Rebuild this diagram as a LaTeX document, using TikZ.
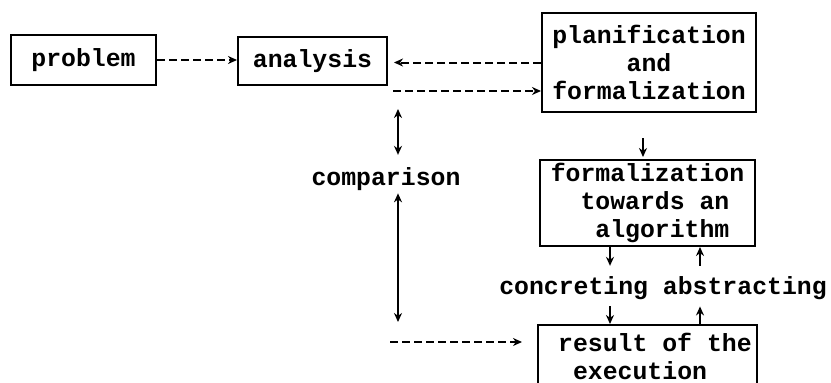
\documentclass[tikz,border=0pt]{standalone}
\usepackage{fontspec}
\setmonofont{Liberation Mono}
\usetikzlibrary{arrows.meta,calc}
\begin{document}
\begin{tikzpicture}[x=1pt,y=-1pt,
  every node/.style={font=\ttfamily\bfseries\fontsize{24.8}{28}\selectfont},
  box/.style={draw,line width=2pt,inner sep=0pt,align=center},
  plainlbl/.style={inner sep=0pt,anchor=base},
  arr/.style={line width=2pt,-{Stealth[length=9pt,width=8pt]}},
  dasharr/.style={arr,dash pattern=on 8pt off 4pt},
  dblarr/.style={line width=2pt,{Stealth[length=9pt,width=8pt]}-{Stealth[length=9pt,width=8pt]}}
]
\clip (0,0) rectangle (831,383);
\fill[white] (0,0) rectangle (831,383);

\node[box,minimum width=145pt,minimum height=50pt] (problem) at (83.5,60) {problem};
\node[box,minimum width=149pt,minimum height=48pt] (analysis) at (312.5,61) {analysis};
\node[box,minimum width=214pt,minimum height=99pt] (plan) at (649,62.5) {planification\\and\\formalization};
\node[box,minimum width=215pt,minimum height=86pt,align=left] (formal) at (647.5,203)
  {formalization\\\hphantom{xx}towards an\\\hphantom{xxx}algorithm};
\node[box,anchor=north,minimum width=219pt,align=left,inner ysep=8pt] (result) at (647.5,324)
  {\hphantom{x}result of the\\\hphantom{xx}execution\\\mbox{}\\\mbox{}};

\node[plainlbl] (cmp) at (386,185) {comparison};
\node[plainlbl] (ca) at (663,294) {concreting abstracting};

\coordinate (xcmp) at (398,0);
\coordinate (xpf) at (643,0);
\coordinate (xcon) at (610,0);
\coordinate (xabs) at (700,0);
\coordinate (fbstart) at (393,91);
\coordinate (rstart) at (390,342);
\coordinate (cmpbot) at (398,322);

\draw[dasharr] (problem.east) -- (problem.east -| analysis.west);
\draw[dasharr,shorten >=6pt] (plan.west) -- (plan.west -| analysis.east);
\draw[dasharr] (fbstart) -- (fbstart -| plan.west);
\draw[arr,shorten <=25pt,shorten >=2pt] (plan.south -| xpf) -- (formal.north -| xpf);

\draw[dblarr,shorten <=23pt,shorten >=12pt] (analysis.south -| xcmp) -- (cmp.north -| xcmp);
\draw[dblarr,shorten <=3pt] (cmp.south -| xcmp) -- (cmpbot);

\draw[arr,shorten >=10pt] (formal.south -| xcon) -- (ca.north -| xcon);
\draw[arr,shorten <=10pt] (ca.north -| xabs) -- (formal.south -| xabs);
\draw[arr,shorten <=7pt] (ca.south -| xcon) -- (result.north -| xcon);
\draw[arr,shorten >=7pt] (result.north -| xabs) -- (ca.south -| xabs);

\draw[dasharr,shorten >=15pt] (rstart) -- (rstart -| result.west);
\end{tikzpicture}
\end{document}
